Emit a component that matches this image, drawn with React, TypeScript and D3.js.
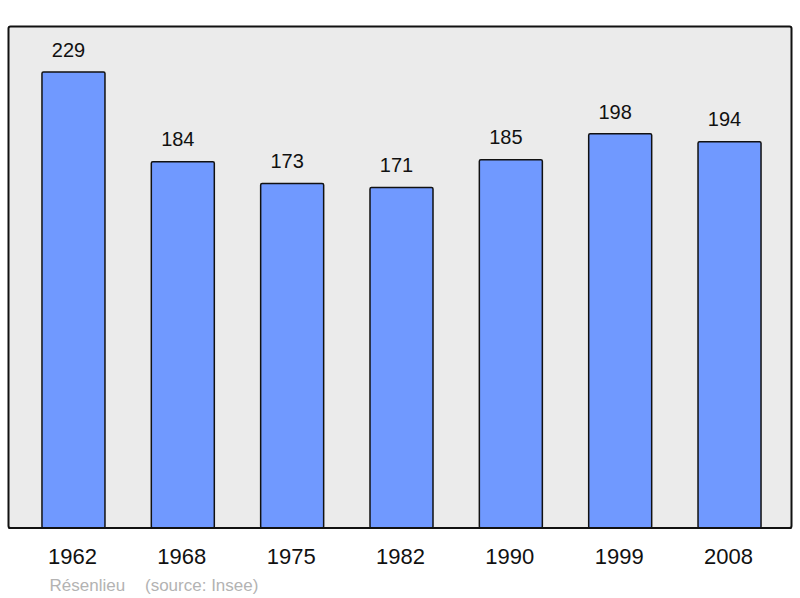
import React from "react";
import * as d3 from "d3";

const years = ["1962", "1968", "1975", "1982", "1990", "1999", "2008"];
const population = [229, 184, 173, 171, 185, 198, 194];
const sourceLabel = "Résenlieu";
const sourceNote = "(source: Insee)";

const W = 800;
const H = 598;
const frame = { left: 8.5, top: 26.5, right: 791.5, bottom: 528 };

export default function App() {
  const x = d3
    .scaleBand<string>()
    .domain(years)
    .range([18.8, 784.2])
    .paddingInner(0.4238)
    .paddingOuter(0.2119);
  const y = d3
    .scaleLinear()
    .domain([0, d3.max(population)! * 1.1])
    .range([frame.bottom, frame.top]);

  return (
    <svg
      width={W}
      height={H}
      style={{ position: "absolute", left: 0, top: 0, display: "block" }}
      fontFamily="'Liberation Sans', Arial, sans-serif"
    >
      <rect x={0} y={0} width={W} height={H} fill="#ffffff" />
      <rect
        x={frame.left}
        y={frame.top}
        width={frame.right - frame.left}
        height={frame.bottom - frame.top}
        rx={2}
        fill="#ebebeb"
        stroke="#111"
        strokeWidth={2}
      />
      {years.map((yr, i) => {
        const v = population[i];
        const bx = x(yr)!;
        const bw = x.bandwidth();
        const top = y(v);
        return (
          <g key={yr}>
            <rect
              x={bx}
              y={top}
              width={bw}
              height={frame.bottom - top}
              rx={1.5}
              fill="#7099ff"
              stroke="#111"
              strokeWidth={1.5}
            />
            <text
              x={bx + bw / 2 - 5}
              y={top - 15.3}
              textAnchor="middle"
              fontSize={20}
              fill="#111"
            >
              {v}
            </text>
            <text
              x={bx + bw / 2 - 1}
              y={564.3}
              textAnchor="middle"
              fontSize={22}
              fill="#111"
            >
              {yr}
            </text>
          </g>
        );
      })}
      <line
        x1={frame.left}
        x2={frame.right}
        y1={frame.bottom}
        y2={frame.bottom}
        stroke="#111"
        strokeWidth={2}
      />
      <text x={49.5} y={590.5} fontSize={17} fill="#b3b3b3">
        {sourceLabel}
      </text>
      <text x={145} y={590.5} fontSize={17} fill="#b3b3b3">
        {sourceNote}
      </text>
    </svg>
  );
}
